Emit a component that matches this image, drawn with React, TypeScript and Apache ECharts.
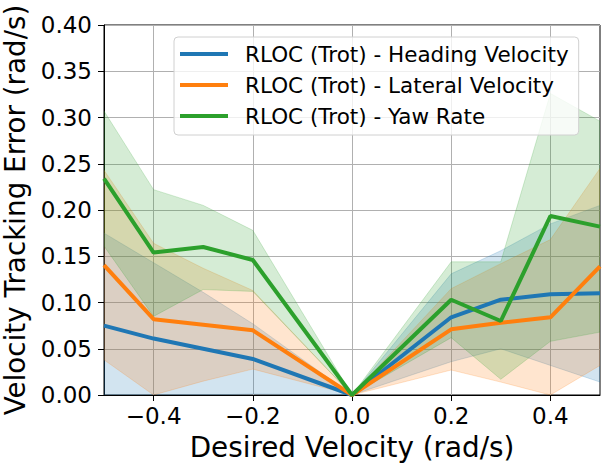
import React, { useEffect, useRef } from "react";
import * as echarts from "echarts";

const xs = [-0.5, -0.4, -0.3, -0.2, 0.0, 0.2, 0.3, 0.4, 0.5];
const xTicks = [-0.4, -0.2, 0.0, 0.2, 0.4];

const headingMean = [0.075, 0.061, 0.050, 0.039, 0.0, 0.084, 0.103, 0.109, 0.110];
const headingLower = [0.0, 0.0, 0.0, 0.001, 0.0, 0.036, 0.050, 0.032, 0.014];
const headingUpper = [0.175, 0.143, 0.111, 0.077, 0.0, 0.131, 0.156, 0.185, 0.205];

const lateralMean = [0.1405, 0.082, 0.076, 0.070, 0.0, 0.071, 0.078, 0.084, 0.139];
const lateralLower = [0.038, 0.0, 0.015, 0.028, 0.0, 0.027, 0.014, 0.0, 0.032];
const lateralUpper = [0.243, 0.164, 0.137, 0.113, 0.0, 0.115, 0.142, 0.168, 0.245];

const yawMean = [0.234, 0.154, 0.160, 0.146, 0.0, 0.103, 0.080, 0.1935, 0.182];
const yawLower = [0.161, 0.085, 0.114, 0.112, 0.0, 0.062, 0.017, 0.058, 0.068];
const yawUpper = [0.307, 0.222, 0.205, 0.178, 0.0, 0.144, 0.144, 0.326, 0.296];

const seriesNames = [
  "RLOC (Trot) - Heading Velocity",
  "RLOC (Trot) - Lateral Velocity",
  "RLOC (Trot) - Yaw Rate",
];
const colors = ["#1f77b4", "#ff7f0e", "#2ca02c"];

const FONT = "DejaVu Sans";

function pairs(vals: number[]) {
  return xs.map((x, i) => [x, vals[i]]);
}

function band(id: string, lower: number[], upper: number[], color: string) {
  // one row per x: [x, lower, upper]
  const rows = xs.map((x, i) => [x, lower[i], upper[i]]);
  return {
    type: "custom",
    name: id,
    data: [rows[0]],
    silent: true,
    z: 1,
    clip: true,
    renderItem: (params: any, api: any) => {
      const top = rows.map((r) => api.coord([r[0], r[2]]));
      const bot = rows.map((r) => api.coord([r[0], r[1]])).reverse();
      return {
        type: "polygon",
        shape: { points: top.concat(bot) },
        style: {
          fill: color,
          opacity: 0.2,
          stroke: color,
          lineWidth: 1,
        },
      };
    },
  };
}

function meanLine(name: string, vals: number[], color: string) {
  return {
    type: "line",
    name,
    data: pairs(vals),
    symbol: "none",
    showSymbol: false,
    z: 3,
    color,
    lineStyle: { color, width: 4 },
  };
}

export default function App() {
  const ref = useRef<HTMLDivElement>(null);
  useEffect(() => {
    document.body.style.margin = "0";
    const chart = echarts.init(ref.current!, null, { renderer: "svg" });
    chart.setOption({
      animation: false,
      textStyle: { fontFamily: FONT },
      grid: {
        left: 104,
        top: 25,
        right: 5,
        bottom: 72,
        containLabel: false,
        outerBoundsMode: "none",
        show: true,
        borderColor: "#000",
        borderWidth: 1,
        backgroundColor: "transparent",
      },
      legend: {
        data: seriesNames,
        orient: "vertical",
        left: 174,
        top: 37,
        icon: "rect",
        itemWidth: 48,
        itemHeight: 4,
        itemGap: 9,
        padding: [6, 10, 8, 6],
        backgroundColor: "rgba(255,255,255,0.8)",
        borderColor: "#d0d0d0",
        borderWidth: 1,
        borderRadius: 4,
        textStyle: {
          fontFamily: FONT,
          fontSize: 21.5,
          color: "#000",
          lineHeight: 22,
          padding: [0, 0, 0, 12],
        },
      },
      xAxis: {
        type: "value",
        min: -0.5,
        max: 0.5,
        name: "Desired Velocity (rad/s)",
        nameLocation: "middle",
        nameGap: 38,
        nameTextStyle: { fontFamily: FONT, fontSize: 27.8, color: "#000" },
        axisLine: { onZero: false, lineStyle: { color: "#000", width: 1 } },
        axisTick: { show: true, length: 6, customValues: xTicks, lineStyle: { color: "#000" } },
        axisLabel: {
          customValues: xTicks,
          fontFamily: FONT,
          fontSize: 23,
          color: "#000",
          margin: 9,
          formatter: (v: number) => v.toFixed(1).replace("-", "\u2212"),
        },
        splitLine: { show: true, lineStyle: { color: "#b0b0b0", width: 1 } },
      },
      yAxis: {
        type: "value",
        min: 0,
        max: 0.4,
        interval: 0.05,
        name: "Velocity Tracking Error (rad/s)",
        nameLocation: "middle",
        nameGap: 73,
        nameTextStyle: { fontFamily: FONT, fontSize: 27.8, color: "#000" },
        axisLine: { show: true, onZero: false, lineStyle: { color: "#000", width: 1 } },
        axisTick: { show: true, length: 6, lineStyle: { color: "#000" } },
        axisLabel: {
          fontFamily: FONT,
          fontSize: 23,
          color: "#000",
          margin: 12,
          formatter: (v: number) => v.toFixed(2),
        },
        splitLine: { show: true, lineStyle: { color: "#b0b0b0", width: 1 } },
      },
      series: [
        band("b0", headingLower, headingUpper, colors[0]),
        band("b1", lateralLower, lateralUpper, colors[1]),
        band("b2", yawLower, yawUpper, colors[2]),
        meanLine(seriesNames[0], headingMean, colors[0]),
        meanLine(seriesNames[1], lateralMean, colors[1]),
        meanLine(seriesNames[2], yawMean, colors[2]),
      ],
    });
    return () => chart.dispose();
  }, []);
  return <div ref={ref} style={{ width: 605, height: 467 }} />;
}
